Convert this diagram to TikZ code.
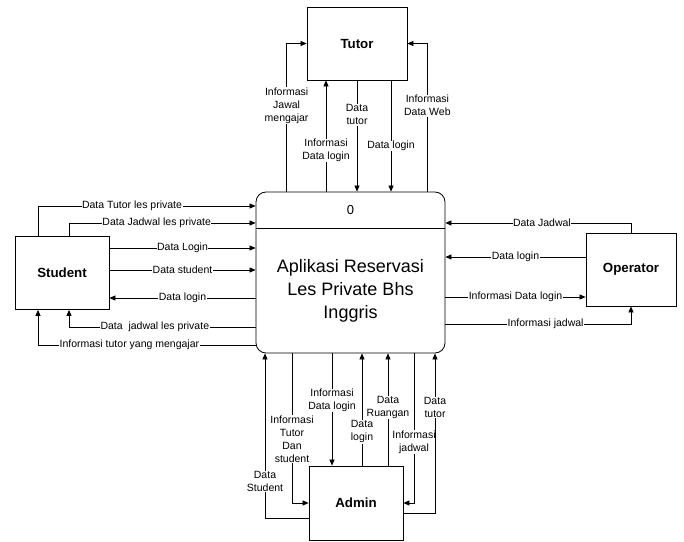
\documentclass[tikz,border=0pt]{standalone}
\usepackage{fontspec}
\setmainfont{Liberation Sans}
\usetikzlibrary{arrows.meta, positioning, calc}

\tikzset{
  entity/.style={draw, line width=0.8pt, minimum width=94pt, minimum height=73pt, inner sep=0pt, font=\fontsize{13.3}{15}\selectfont\bfseries},
  flow/.style={line width=0.7pt, -{Triangle[length=6pt,width=5pt]}},
  lbl/.style={fill=white, inner sep=0.5pt, align=center, font=\fontsize{10.5}{13}\selectfont}
}

\begin{document}
\begin{tikzpicture}[x=1pt,y=1pt]
\useasboundingbox (0,0) rectangle (684,541);
% Entities
\node[entity, minimum width=100pt] (tutor) at (357,497.5) {Tutor};
\node[entity] (student) at (62,268) {Student};
\node[entity, minimum width=90pt] (operator) at (631,271.5) {Operator};
\node[entity, minimum height=74pt] (admin) at (356,38) {Admin};
% Process
\node[draw, line width=0.8pt, rounded corners=10pt, minimum width=189pt, minimum height=161pt] (proc) at (350.5,268.5) {};
\draw[line width=0.8pt] ([yshift=-37pt]proc.north west) -- ([yshift=-37pt]proc.north east);
\node[font=\fontsize{13}{15}\selectfont] (pid) at ([yshift=-18pt]proc.north) {0};
\node[align=center, font=\fontsize{18}{23}\selectfont] (ptext) at ([yshift=-18.5pt]proc.center) {Aplikasi Reservasi\\Les Private Bhs\\Inggris};
% Tutor
\draw[flow] ([xshift=31pt]proc.north west) |- node[lbl,pos=0.29]{Informasi\\Jawal\\mengajar} (tutor.west);
\draw[flow] ([xshift=-31pt]tutor.south |- proc.north) -- node[lbl,pos=0.37]{Informasi\\Data login} ([xshift=-31pt]tutor.south);
\draw[flow] (tutor.south) -- node[lbl,pos=0.31]{Data\\tutor} (tutor.south |- proc.north);
\draw[flow] ([xshift=34pt]tutor.south) -- node[lbl,pos=0.59]{Data login} ([xshift=34pt]tutor.south |- proc.north);
\draw[flow] ([xshift=-18pt]proc.north east) |- node[lbl,pos=0.29]{Informasi\\Data Web} (tutor.east);
% Student
\draw[flow] ([xshift=-24pt]student.north) |- node[lbl,pos=0.716]{Data Tutor les private} ([yshift=66.5pt]proc.west);
\draw[flow] ([xshift=7pt]student.north) |- node[lbl,pos=0.735]{Data Jadwal les private} ([yshift=49.5pt]proc.west);
\draw[flow] ([yshift=25pt]student.east) -- node[lbl]{Data Login} ([yshift=25pt]student.east -| proc.west);
\draw[flow] ([yshift=3pt]student.east) -- node[lbl]{Data student} ([yshift=3pt]student.east -| proc.west);
\draw[flow] ([yshift=-25pt]student.east -| proc.west) -- node[lbl]{Data login} ([yshift=-25pt]student.east);
\draw[flow] ([yshift=-54.5pt]proc.west) -| node[lbl,pos=0.27]{Data~~jadwal les private} ([xshift=7pt]student.south);
\draw[flow] ([yshift=-72.5pt]proc.west) -| node[lbl,pos=0.29]{Informasi tutor yang mengajar} ([xshift=-24pt]student.south);
% Operator
\draw[flow] (operator.north) |- node[lbl,pos=0.74]{Data Jadwal} ([yshift=49.5pt]proc.east);
\draw[flow] ([yshift=12.5pt]operator.west) -- node[lbl]{Data login} ([yshift=12.5pt]operator.west -| proc.east);
\draw[flow] ([yshift=-27.5pt]operator.west -| proc.east) -- node[lbl]{Informasi Data login} ([yshift=-27.5pt]operator.west);
\draw[flow] ([yshift=-51.5pt]proc.east) -| node[lbl,pos=0.27]{Informasi jadwal} (operator.south);
% Admin
\draw[flow] ([yshift=-15pt]admin.west) -| node[lbl,pos=0.61]{Data\\Student} ([xshift=-85.5pt]proc.south);
\draw[flow] ([xshift=-58.5pt]proc.south) |- node[lbl,pos=0.287]{Informasi\\Tutor\\Dan\\student} (admin.west);
\draw[flow] ([xshift=-24pt]admin.north |- proc.south) -- node[lbl,pos=0.42]{Informasi\\Data login} ([xshift=-24pt]admin.north);
\draw[flow] ([xshift=32pt]admin.north) -- node[lbl,pos=0.52]{Data\\Ruangan} ([xshift=32pt]admin.north |- proc.south);
\draw[flow] ([xshift=6pt]admin.north) -- node[lbl,pos=0.30]{Data\\login} ([xshift=6pt]admin.north |- proc.south);
\draw[flow] ([xshift=63.5pt]proc.south) |- node[lbl,pos=0.297]{Informasi\\jadwal} (admin.east);
\draw[flow] ([yshift=-10pt]admin.east) -| node[lbl,pos=0.83]{Data\\tutor} ([xshift=84.5pt]proc.south);
\end{tikzpicture}
\end{document}
